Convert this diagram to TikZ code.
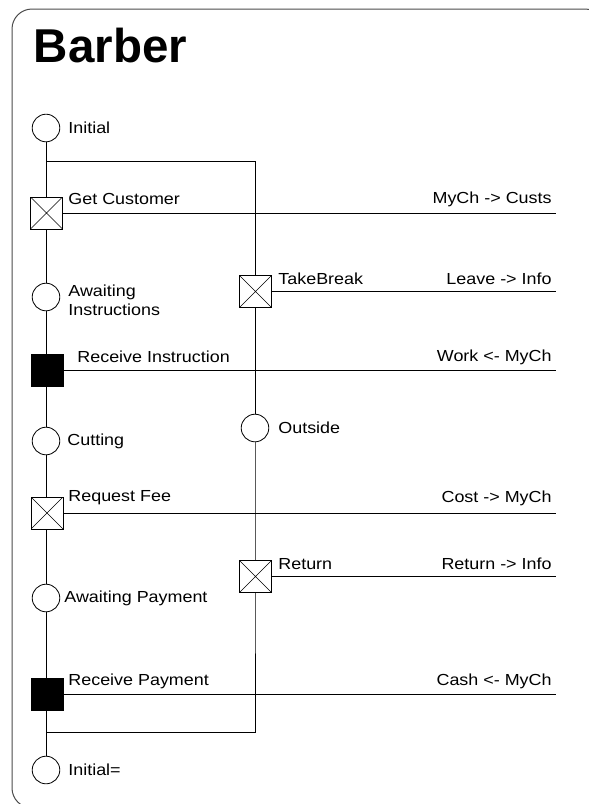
\documentclass[tikz,border=0pt]{standalone}
\usepackage{fontspec}
\setmainfont{Liberation Sans}
\newfontfamily\labfont[FakeStretch=1.12]{Liberation Sans}
\begin{document}
\begin{tikzpicture}[x=1pt,y=-1pt,
  line width=0.8pt,
  state/.style={circle,draw,fill=white,minimum size=27.6pt,inner sep=0pt},
  sendbox/.style={rectangle,draw,fill=white,minimum size=32pt,inner sep=0pt,
    path picture={\draw[line width=0.6pt]
      (path picture bounding box.south west) -- (path picture bounding box.north east)
      (path picture bounding box.north west) -- (path picture bounding box.south east);}},
  recvbox/.style={rectangle,draw,fill=black,minimum size=32pt,inner sep=0pt},
  lbl/.style={inner sep=0pt,anchor=west,font=\labfont\fontsize{16}{19}\selectfont,align=left},
  rlbl/.style={inner sep=0pt,anchor=east,font=\labfont\fontsize{16}{19}\selectfont},
  chan/.style={line width=0.8pt}]
\useasboundingbox (0,0) rectangle (589,804);
\fill[white] (0,0) rectangle (589,804);
\begin{scope}
  \clip (0,0) rectangle (589,804);
  \draw[line width=1pt,black!70] (12,9) [rounded corners=20pt] -- (605,9) -- (605,808) -- (12,808) -- cycle;
\end{scope}

% title
\node[inner sep=0pt,anchor=west,font=\bfseries\fontsize{47.5}{52}\selectfont] (title) at (33.5,46) {Barber};

% junction points of the parallel branch
\coordinate (forkL) at (46,161);
\coordinate (forkR) at (255,161);
\coordinate (joinL) at (46,732);
\coordinate (joinR) at (255,732);

% channel ends at the right
\coordinate (e1) at (556,213);
\coordinate (e2) at (556,291.5);
\coordinate (e3) at (556,370);
\coordinate (e4) at (556,513);
\coordinate (e5) at (556,576.5);
\coordinate (e6) at (556,694);

% main thread: vertical line first so shapes sit on top
\draw (46,128) -- (46,770);
\draw (forkL) -- (forkR) -- (255,291.5);
\draw (255,291.5) -- (255,576.5) -- (joinR) -- (joinL);

% horizontal channel lines
\draw[chan] (46.5,213) -- (e1);
\draw[chan] (255,291.5) -- (e2);
\draw[chan] (47,370) -- (e3);
\draw[chan] (47,513) -- (e4);
\draw[chan] (255,576.5) -- (e5);
\draw[chan] (47,694) -- (e6);

% states and actions of the left thread
\node[state] (init) at (46,128) {};
\node[sendbox] (getc) at (46.5,213) {};
\node[state] (awinstr) at (46,297) {};
\node[recvbox] (recinstr) at (47,370) {};
\node[state] (cut) at (46,441) {};
\node[sendbox] (reqfee) at (47,513) {};
\node[state] (awpay) at (46,598) {};
\node[recvbox] (recpay) at (47,694) {};
\node[state] (initeq) at (46,770) {};

% states and actions of the break branch
\node[sendbox] (brk) at (255.5,291.5) {};
\node[state] (outside) at (255,428) {};
\node[sendbox] (ret) at (255.5,576.5) {};

% labels of states and actions
\node[lbl] (l-init) at (68,128) {Initial};
\node[lbl] (l-getc) at (68,199) {Get Customer};
\node[lbl] (l-awinstr) at (68,300) {Awaiting\\Instructions};
\node[lbl] (l-recinstr) at (77,357) {Receive Instruction};
\node[lbl] (l-cut) at (67,441) {Cutting};
\node[lbl] (l-reqfee) at (68,498) {Request Fee};
\node[lbl] (l-awpay) at (64,598) {Awaiting Payment};
\node[lbl] (l-recpay) at (68,681) {Receive Payment};
\node[lbl] (l-initeq) at (68,770) {Initial=};
\node[lbl] (l-brk) at (278,279) {TakeBreak};
\node[lbl] (l-outside) at (278,428) {Outside};
\node[lbl] (l-ret) at (278,564) {Return};

% channel labels
\node[rlbl] (c1) at (552,199) {MyCh -> Custs};
\node[rlbl] (c2) at (552,279) {Leave -> Info};
\node[rlbl] (c3) at (552,357) {Work <- MyCh};
\node[rlbl] (c4) at (552,498) {Cost -> MyCh};
\node[rlbl] (c5) at (552,564) {Return -> Info};
\node[rlbl] (c6) at (552,681) {Cash <- MyCh};
\end{tikzpicture}
\end{document}
